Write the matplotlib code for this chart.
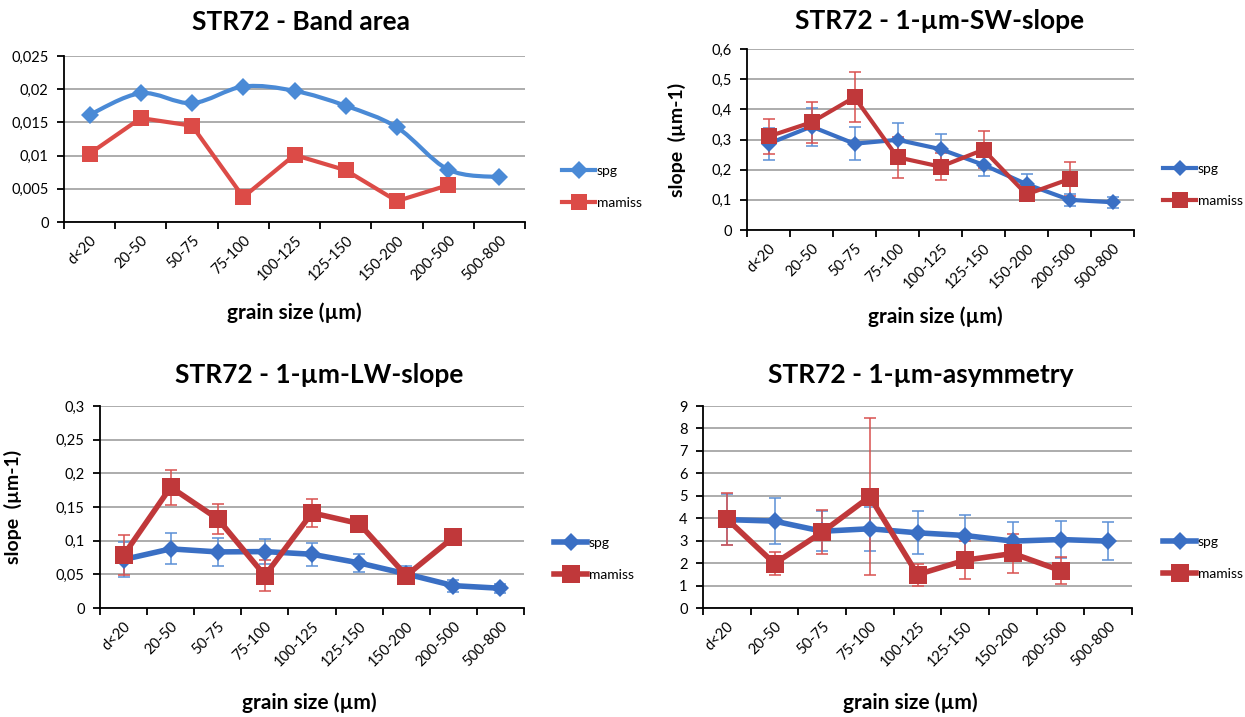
import matplotlib
matplotlib.use("Agg")
import matplotlib.pyplot as plt
from matplotlib.path import Path
from matplotlib.patches import PathPatch
from matplotlib.ticker import FixedLocator, FuncFormatter
import numpy as np

plt.rcParams["font.family"] = ["Lato", "DejaVu Sans"]

# grain size classes shared by all four panels
classes = ["d<20", "20-50", "50-75", "75-100", "100-125", "125-150",
           "150-200", "200-500", "500-800"]

# band area
area_spg = [0.01615, 0.0194, 0.0179, 0.0204, 0.01975, 0.0175, 0.01425, 0.0079, 0.00675]
area_mam = [0.0103, 0.01565, 0.0145, 0.00375, 0.0101, 0.0078, 0.00315, 0.00555]

# 1-um short-wavelength slope
sw_spg = [0.286, 0.343, 0.286, 0.299, 0.268, 0.216, 0.152, 0.100, 0.092]
sw_spg_err = [0.053, 0.063, 0.055, 0.055, 0.050, 0.037, 0.033, 0.020, 0.019]
sw_mam = [0.310, 0.357, 0.440, 0.241, 0.210, 0.266, 0.118, 0.169]
sw_mam_err = [0.058, 0.068, 0.083, 0.067, 0.044, 0.061, 0.012, 0.055]

# 1-um long-wavelength slope
lw_spg = [0.072, 0.0878, 0.0833, 0.0838, 0.0798, 0.067, 0.0506, 0.0332, 0.0293]
lw_spg_err = [0.026, 0.023, 0.021, 0.018, 0.017, 0.013, 0.012, 0.009, 0.007]
lw_mam = [0.0783, 0.1795, 0.1324, 0.0481, 0.1413, 0.1254, 0.0481, 0.105]
lw_mam_err = [0.030, 0.026, 0.022, 0.023, 0.021, 0.010, 0.005, 0.006]

# 1-um band asymmetry
as_spg = [3.94, 3.87, 3.42, 3.53, 3.35, 3.23, 2.98, 3.05, 2.98]
as_spg_err = [1.15, 1.04, 0.90, 0.98, 0.95, 0.90, 0.85, 0.82, 0.84]
as_mam = [3.97, 1.98, 3.38, 4.96, 1.49, 2.13, 2.43, 1.67]
as_mam_err = [1.17, 0.53, 0.97, 3.50, 0.49, 0.86, 0.87, 0.60]

W, H = 1245, 717
fig = plt.figure(figsize=(W / 100, H / 100), dpi=100)


def box(left, top, right, bottom):
    return [left / W, 1 - bottom / H, (right - left) / W, (bottom - top) / H]


def comma(v, _pos):
    s = f"{v:.3f}".rstrip("0").rstrip(".")
    return s.replace(".", ",")


def smooth_path(x, y):
    """Excel-style smoothed line as cubic Bezier segments through the points."""
    pts = np.column_stack([x, y]).astype(float)
    n = len(pts)
    verts = [pts[0]]
    codes = [Path.MOVETO]
    for i in range(n - 1):
        p0 = pts[max(i - 1, 0)]
        p1 = pts[i]
        p2 = pts[i + 1]
        p3 = pts[min(i + 2, n - 1)]
        verts += [p1 + (p2 - p0) / 6, p2 - (p3 - p1) / 6, p2]
        codes += [Path.CURVE4] * 3
    return Path(verts, codes)


def setup(ax, ymax, step, ticksize=10.5):
    ax.set_xlim(-0.5, len(classes) - 0.5)
    ax.set_ylim(0, ymax)
    yt = np.arange(0, ymax + step / 2, step)
    ax.yaxis.set_major_locator(FixedLocator(yt))
    ax.yaxis.set_major_formatter(FuncFormatter(comma))
    ax.grid(axis="y", color="#a6a6a6", linewidth=1.3)
    ax.set_axisbelow(True)
    for s in ("top", "right"):
        ax.spines[s].set_visible(False)
    for s in ("left", "bottom"):
        ax.spines[s].set_linewidth(1.3)
    ax.set_xticks(range(len(classes)))
    ax.set_xticklabels(classes, rotation=45, ha="right", rotation_mode="anchor",
                       fontsize=ticksize)
    ax.tick_params(axis="x", which="major", length=0, pad=8)
    ax.set_xticks(np.arange(-0.5, len(classes)), minor=True)
    ax.tick_params(axis="x", which="minor", length=5, width=1.3, direction="out")
    ax.tick_params(axis="y", length=5, width=1.3, labelsize=ticksize, pad=6)


def add_legend(ax, handles, x, y):
    ax.legend(handles=handles, labels=["spg", "mamiss"], loc="center left",
              bbox_to_anchor=(x / W, 1 - y / H), bbox_transform=fig.transFigure,
              frameon=False, fontsize=10, handlelength=2.4, handletextpad=0.1,
              labelspacing=1.4, borderpad=0)


def err_panel(ax, spg, spg_err, mam, mam_err, blue, red, lw, ms_d, ms_s):
    xs = np.arange(len(spg))
    xm = np.arange(len(mam))
    ax.errorbar(xs, spg, yerr=spg_err, fmt="none", ecolor="#5b8fd6",
                elinewidth=1.1, capsize=4, capthick=1.1, zorder=3)
    ax.errorbar(xm, mam, yerr=mam_err, fmt="none", ecolor="#d9514f",
                elinewidth=1.1, capsize=4, capthick=1.1, zorder=3)
    h1, = ax.plot(xs, spg, color=blue, lw=lw, marker="D", ms=ms_d,
                  markeredgewidth=0, zorder=4)
    h2, = ax.plot(xm, mam, color=red, lw=lw, marker="s", ms=ms_s,
                  markeredgewidth=0, zorder=5)
    return [h1, h2]


title_kw = dict(fontsize=19, fontweight="bold", ha="center", va="center")
xlab_kw = dict(fontsize=15, fontweight="bold", ha="center", va="center")
ylab_kw = dict(fontsize=14, fontweight="bold")

# Band area
ax1 = fig.add_axes(box(64, 56, 525, 222))
setup(ax1, 0.025, 0.005)
blue1, red1 = "#4a8ad6", "#dc4b47"
x1 = np.arange(len(area_spg))
ax1.add_patch(PathPatch(smooth_path(x1, area_spg), facecolor="none",
                        edgecolor=blue1, lw=3, zorder=4))
ax1.plot(x1, area_spg, ls="none", marker="D", ms=9, color=blue1,
         markeredgewidth=0, zorder=5)
ax1.plot(np.arange(len(area_mam)), area_mam, color=red1, lw=3, marker="s",
         ms=11, markeredgewidth=0, zorder=5)
h_spg = plt.Line2D([], [], color=blue1, lw=3, marker="D", ms=9, markeredgewidth=0)
h_mam = plt.Line2D([], [], color=red1, lw=3, marker="s", ms=11, markeredgewidth=0)
add_legend(ax1, [h_spg, h_mam], 555, 187)
fig.text(301 / W, 1 - 22 / H, "STR72 - Band area", **title_kw)
fig.text(294 / W, 1 - 313 / H, "grain size (µm)", **xlab_kw)

blue, red = "#3a6fc4", "#c0383a"

# 1-um SW slope
ax2 = fig.add_axes(box(747, 49, 1134, 230))
setup(ax2, 0.6, 0.1)
hs = err_panel(ax2, sw_spg, sw_spg_err, sw_mam, sw_mam_err, blue, red, 3, 8, 11)
add_legend(ax2, hs, 1156, 185)
ax2.set_ylabel("slope  (µm-1)", **ylab_kw)
ax2.yaxis.set_label_coords((686 - 747) / (1134 - 747), 0.5)
fig.text(940 / W, 1 - 21 / H, "STR72 - 1-µm-SW-slope", **title_kw)
fig.text(935 / W, 1 - 317 / H, "grain size (µm)", **xlab_kw)

# 1-um LW slope
ax3 = fig.add_axes(box(100, 406, 524, 608))
setup(ax3, 0.3, 0.05)
hs = err_panel(ax3, lw_spg, lw_spg_err, lw_mam, lw_mam_err, blue, red, 4, 9, 13)
add_legend(ax3, hs, 547, 559)
ax3.set_ylabel("slope  (µm-1)", **ylab_kw)
ax3.yaxis.set_label_coords((22 - 100) / (524 - 100), 0.5)
fig.text(319 / W, 1 - 375 / H, "STR72 - 1-µm-LW-slope", **title_kw)
fig.text(309 / W, 1 - 703 / H, "grain size (µm)", **xlab_kw)

# 1-um asymmetry
ax4 = fig.add_axes(box(703, 406, 1132, 608))
setup(ax4, 9, 1)
hs = err_panel(ax4, as_spg, as_spg_err, as_mam, as_mam_err, blue, red, 4, 9, 13)
add_legend(ax4, hs, 1156, 558)
fig.text(921 / W, 1 - 375 / H, "STR72 - 1-µm-asymmetry", **title_kw)
fig.text(910 / W, 1 - 703 / H, "grain size (µm)", **xlab_kw)

fig.savefig("out.png", dpi=100)
